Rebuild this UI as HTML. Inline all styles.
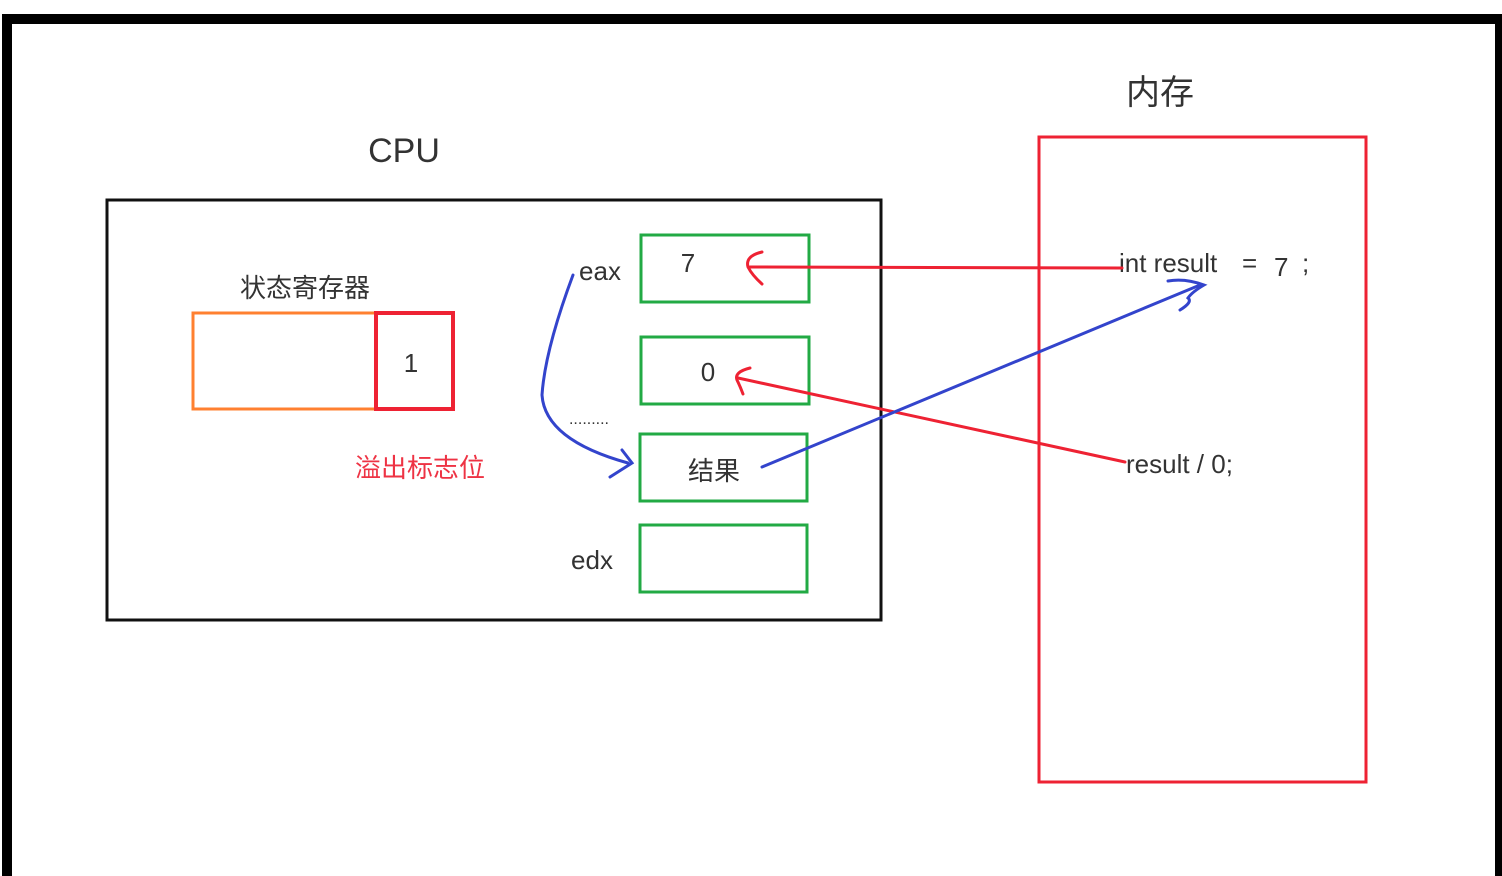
<!DOCTYPE html>
<html><head><meta charset="utf-8"><style>
html,body{margin:0;padding:0;background:#fff;width:1502px;height:876px;overflow:hidden}
text{font-family:"Liberation Sans","Noto Sans CJK SC",sans-serif;fill:#333}
</style></head><body>
<svg width="1502" height="876" viewBox="0 0 1502 876" xmlns="http://www.w3.org/2000/svg">
<rect x="0" y="0" width="1502" height="876" fill="#fff"/>
<rect x="2" y="14" width="1502" height="10" fill="#000"/>
<rect x="2" y="14" width="10" height="862" fill="#000"/>
<rect x="1495" y="14" width="7" height="862" fill="#000"/>
<text x="404" y="162" font-size="34" text-anchor="middle">CPU</text>
<text x="1160" y="104" font-size="34" text-anchor="middle">内存</text>
<rect x="107" y="200" width="774" height="420" fill="none" stroke="#111" stroke-width="3"/>
<rect x="1039" y="137" width="327" height="645" fill="none" stroke="#ee2233" stroke-width="3"/>
<text x="305" y="297" font-size="26" text-anchor="middle">状态寄存器</text>
<rect x="193" y="313" width="183" height="96" fill="none" stroke="#ff8030" stroke-width="3"/>
<rect x="376" y="313" width="77" height="96" fill="none" stroke="#ee2233" stroke-width="4"/>
<text x="411" y="372" font-size="26" text-anchor="middle">1</text>
<text x="420" y="477" font-size="26" text-anchor="middle" style="fill:#ee3344">溢出标志位</text>
<g fill="none" stroke="#22aa44" stroke-width="3">
<rect x="641" y="235" width="168" height="67"/>
<rect x="641" y="337" width="168" height="67"/>
<rect x="640" y="434" width="167" height="67"/>
<rect x="640" y="525" width="167" height="67"/>
</g>
<text x="600" y="280" font-size="26" text-anchor="middle">eax</text>
<text x="592" y="569" font-size="26" text-anchor="middle">edx</text>
<text x="589" y="424" font-size="16" text-anchor="middle">.........</text>
<text x="688" y="272" font-size="26" text-anchor="middle">7</text>
<text x="708" y="381" font-size="26" text-anchor="middle">0</text>
<text x="714" y="480" font-size="26" text-anchor="middle">结果</text>
<text x="1119" y="272" font-size="26">int result</text>
<text x="1242" y="272" font-size="26">=</text>
<text x="1274" y="276" font-size="26">7</text>
<text x="1302" y="272" font-size="26">;</text>
<text x="1126" y="473" font-size="26">result / 0;</text>
<g fill="none" stroke="#ee2233" stroke-width="3" stroke-linecap="round">
<path d="M1122,268 L750,267"/>
<path d="M762,252 Q745,256 748,267 Q752,275 762,284"/>
<path d="M1125,462 L738,378"/>
<path d="M750,368 Q734,372 737,380 Q740,386 743,394"/>
</g>
<g fill="none" stroke="#3344cc" stroke-width="3" stroke-linecap="round">
<path d="M762,467 L1200,285"/>
<path d="M1168,281 Q1185,278 1204,285 Q1192,292 1188,298 Q1193,302 1180,310"/>
<path d="M573,275 Q545,350 542,395 Q545,440 628,463"/>
<path d="M622,450 L632,463 L610,477"/>
</g>
</svg>
</body></html>
